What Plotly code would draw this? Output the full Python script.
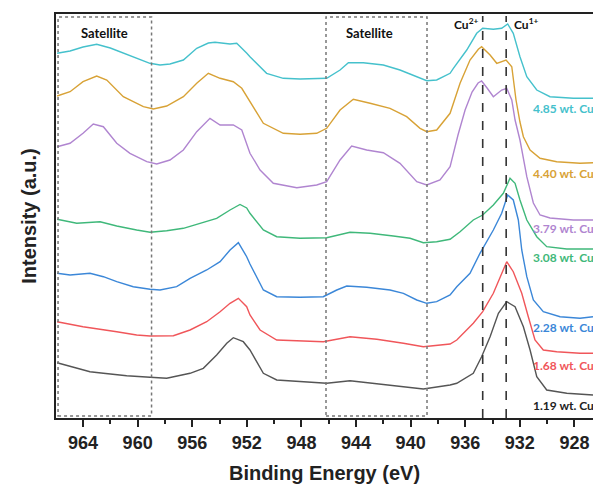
import plotly.graph_objects as go

# ---------------- data ----------------
labels = ["4.85 wt. Cu", "4.40 wt. Cu", "3.79 wt. Cu", "3.08 wt. Cu",
          "2.28 wt. Cu", "1.68 wt. Cu", "1.19 wt. Cu"]
colors = ["#45c1cc", "#d8a236", "#b085d0", "#3fb87a", "#3b87d8", "#f0565a", "#555555"]
label_colors = ["#45c1cc", "#d8a236", "#b085d0", "#3fb87a", "#3b87d8", "#f0565a", "#222222"]

e_485 = [965.9, 964.95, 964.0, 963.0, 962.0, 961.05, 960.07, 959.1, 958.36, 957.63, 956.65, 955.67,
         954.82, 954.33, 953.23, 952.74, 952.0, 951.77, 950.55, 949.33, 948.1, 946.64, 946.15, 945.17,
         944.56, 943.47, 942.0, 940.78, 939.55, 938.82, 938.09, 937.11, 936.87, 935.89, 935.16, 934.72,
         933.94, 933.33, 932.89, 932.48, 931.99, 931.49, 930.76, 929.79, 928.08, 926.64]
i_485 = [364.7, 367, 371, 373.7, 370, 365, 360, 354.7, 353, 354, 358, 369.7,
         375, 375.7, 374, 374.7, 364.7, 361.3, 344.7, 339.7, 339, 339, 339.7, 348,
         355.3, 355.3, 353, 348, 341.3, 337.3, 338, 344.7, 349.7, 368, 384.7, 389.7,
         388.7, 389.7, 394, 384.7, 361.3, 341.3, 328, 321.3, 319.7, 319.7]

e_440 = [965.9, 964.95, 964.0, 963.0, 962.26, 961.05, 959.58, 958.85, 957.87, 956.65, 955.67, 954.82,
         953.96, 952.99, 952.37, 951.77, 950.79, 949.33, 948.1, 946.88, 946.15, 945.17, 944.2, 942.97,
         941.51, 940.29, 939.31, 938.82, 938.09, 937.11, 936.38, 935.65, 935.04, 934.8, 934.18, 933.69,
         933.33, 933.01, 932.59, 932.28, 931.99, 931.74, 931.25, 930.52, 929.3, 927.59, 926.64]
i_440 = [322, 326.3, 336.3, 342, 338, 321.3, 311.3, 309, 312, 321.3, 334.7, 344.7,
         339.7, 336.3, 329.7, 316, 294.7, 284.7, 283.7, 284.7, 289.7, 308, 318.7, 314.7,
         309.7, 301.3, 289.7, 286.3, 288, 304.7, 334.7, 358, 368.7, 371.3, 363, 354.7,
         356.3, 358, 351.3, 318, 296, 281.3, 268, 259.7, 256.3, 254.7, 255.3]

e_379 = [965.9, 964.95, 964.0, 963.25, 962.51, 961.53, 960.56, 959.33, 958.6, 957.63, 956.65, 955.67,
         954.7, 953.96, 952.99, 952.37, 951.77, 951.03, 950.06, 948.34, 946.88, 946.15, 945.17, 944.32,
         943.22, 942.0, 940.78, 939.55, 938.82, 937.85, 937.11, 936.53, 936.01, 935.5, 935.06, 934.8,
         934.4, 933.94, 933.33, 932.96, 932.59, 932.35, 931.99, 931.49, 931.01, 930.52, 929.79, 928.08, 926.64]
i_379 = [271.3, 274.7, 284.7, 294, 291.3, 274.7, 264.7, 256.3, 254, 258, 268, 286.3,
         299.7, 293, 293, 288, 264.7, 248, 234.7, 230.3, 233, 236.3, 258, 272,
         268, 265.3, 254.7, 236.3, 233, 238, 251.3, 283, 308, 326, 335, 337,
         330, 321.3, 328, 329.7, 318, 298, 278, 241.3, 215, 203, 200, 198, 198]

e_308 = [965.9, 964.46, 962.75, 961.53, 960.07, 959.09, 957.87, 956.65, 955.43, 954.21, 953.23, 952.5,
         952.01, 951.77, 950.79, 949.81, 948.1, 946.15, 944.44, 942.97, 941.27, 940.04, 939.07, 938.09,
         937.11, 936.38, 935.41, 934.72, 933.94, 933.21, 932.72, 932.35, 931.99, 931.49, 930.76, 930.03,
         928.56, 926.64]
i_308 = [198.7, 194.7, 196.3, 192, 188, 185.7, 187.3, 189.7, 194.7, 199.7, 208, 213.5,
         210, 204.7, 188, 181.3, 179.7, 180.3, 185.7, 184.7, 182, 179.7, 175.3, 176.3,
         178.7, 186.3, 198, 203, 213, 224.7, 239.7, 234.7, 218, 198, 181.3, 171.3,
         169, 169]

e_228 = [965.9, 964.95, 963.49, 962.51, 961.53, 960.32, 959.09, 958.36, 957.14, 956.16, 954.94, 953.96,
         953.23, 952.62, 952.01, 951.77, 950.79, 949.81, 948.1, 946.4, 945.41, 944.68, 943.22, 941.51,
         940.53, 939.55, 938.82, 938.09, 937.11, 936.62, 935.65, 934.92, 933.94, 933.33, 932.89, 932.48,
         932.11, 931.86, 931.49, 931.01, 930.28, 929.05, 927.59, 926.64]
i_228 = [144.7, 143, 144.7, 141.3, 136.3, 131.3, 128.7, 128, 131.3, 139.7, 148, 156.3,
         168, 175.3, 161.3, 154, 128, 121.3, 120.7, 121.3, 128, 132, 130.7, 128,
         124.7, 118, 114.7, 116.3, 123, 131.3, 144.7, 164.7, 188, 204.7, 223, 218,
         198, 168, 141.3, 118, 106.3, 101.3, 99.7, 101.3]

e_168 = [965.9, 964.0, 961.53, 960.07, 959.09, 957.38, 956.16, 954.94, 953.96, 953.23, 952.62, 952.01,
         951.77, 951.03, 949.81, 948.1, 946.4, 944.44, 942.48, 940.53, 939.07, 937.11, 936.62, 935.41,
         934.72, 933.94, 933.33, 932.96, 932.48, 931.86, 931.38, 930.89, 930.28, 929.3, 927.59, 926.64]
i_168 = [96.3, 91.3, 86.3, 83, 82, 82.3, 88, 96.3, 106.3, 114.7, 119.7, 111.3,
         103, 88, 78, 77.3, 76.3, 81.3, 78.7, 74.7, 71.3, 74, 78, 94.7,
         106.3, 124.7, 144.7, 156.3, 146.3, 124.7, 101.3, 78, 68, 66.3, 64.7, 64.7]

e_119 = [965.9, 964.46, 963.49, 962.51, 960.8, 959.09, 957.87, 956.16, 955.19, 954.21, 953.47, 952.99,
         952.26, 951.77, 950.79, 949.81, 948.1, 946.15, 944.44, 942.48, 940.78, 939.07, 937.11, 936.62,
         935.41, 934.8, 934.18, 933.57, 932.96, 932.35, 931.74, 931.25, 930.76, 930.03, 928.56, 926.64]
i_119 = [55.3, 49.7, 46.3, 44.7, 42.3, 40.7, 39.7, 44.7, 49.7, 63, 74.7, 80.3,
         76.3, 68, 44.7, 38, 36.3, 34.7, 37.3, 34, 31.3, 29, 33, 34.7,
         44.7, 61.3, 81.3, 104.7, 116.3, 111.3, 91.3, 68, 41.3, 28, 24.7, 23]

energies = [e_485, e_440, e_379, e_308, e_228, e_168, e_119]
intensities = [i_485, i_440, i_379, i_308, i_228, i_168, i_119]
label_pos_e = [931.2, 931.2, 931.2, 931.2, 931.2, 931.2, 931.2]
label_pos_i = [310, 245, 190, 161, 91, 53, 13]

tick_vals = [964, 960, 956, 952, 948, 944, 940, 936, 932, 928]
sat_boxes = [(965.83, 958.98), (946.2, 938.8)]
sat_label_e = [962.42, 943.05]
cu_lines = [934.72, 933.0]

# ---------------- figure ----------------
fig = go.Figure()
for e, i, c, n in zip(energies, intensities, colors, labels):
    fig.add_trace(go.Scatter(x=e, y=i, mode="lines", line=dict(color=c, width=1.4),
                             name=n, showlegend=False))

for (x0, x1) in sat_boxes:
    fig.add_shape(type="rect", x0=x0, x1=x1, y0=2, y1=401, xref="x", yref="y",
                  line=dict(color="#777777", width=1.5, dash="dot"))
for xe in sat_label_e:
    fig.add_annotation(x=xe, y=385, text="<b>Satellite</b>", showarrow=False,
                       font=dict(family="Lato", size=13, color="#111111"))

for xe in cu_lines:
    fig.add_shape(type="line", x0=xe, x1=xe, y0=0, y1=402, xref="x", yref="y",
                  line=dict(color="#333333", width=1.6, dash="dash"))
fig.add_annotation(x=934.92, y=394, text="<b>Cu<sup>2+</sup></b>", showarrow=False,
                   xanchor="right", font=dict(family="Lato", size=12, color="#111111"))
fig.add_annotation(x=932.57, y=394, text="<b>Cu<sup>1+</sup></b>", showarrow=False,
                   xanchor="left", font=dict(family="Lato", size=12, color="#111111"))

for n, c, xe, yi in zip(labels, label_colors, label_pos_e, label_pos_i):
    fig.add_annotation(x=xe, y=yi, text="<b>" + n + "</b>", showarrow=False,
                       xanchor="left", font=dict(family="Lato", size=12, color=c))

fig.update_layout(
    width=593, height=484,
    margin=dict(l=56, r=0, t=14, b=66, autoexpand=False),
    plot_bgcolor="white", paper_bgcolor="white",
    xaxis=dict(range=[965.98, 926.64], tickvals=tick_vals, ticks="outside", ticklen=7,
               tickwidth=2, tickcolor="#222222", showline=True, linewidth=2,
               linecolor="#222222", mirror=True, showgrid=False, zeroline=False,
               automargin=False,
               minor=dict(dtick=2, tick0=928, ticks="outside", ticklen=4, tickwidth=1.5,
                          tickcolor="#222222", showgrid=False),
               tickfont=dict(family="Liberation Sans", size=18, color="#222222", weight="bold"),
               title=dict(text="Binding Energy (eV)", standoff=14,
                          font=dict(family="Liberation Sans", size=20, color="#222222", weight="bold"))),
    yaxis=dict(range=[0, 404], showticklabels=False, ticks="", showline=True, linewidth=2,
               linecolor="#222222", showgrid=False, zeroline=False, automargin=False,
               title=dict(text="Intensity (a.u.)", standoff=12,
                          font=dict(family="Liberation Sans", size=20, color="#222222", weight="bold"))),
)

fig.write_html("out.html", config={"displayModeBar": False},
               post_script="document.body.style.margin='0';document.body.style.overflow='hidden';")
